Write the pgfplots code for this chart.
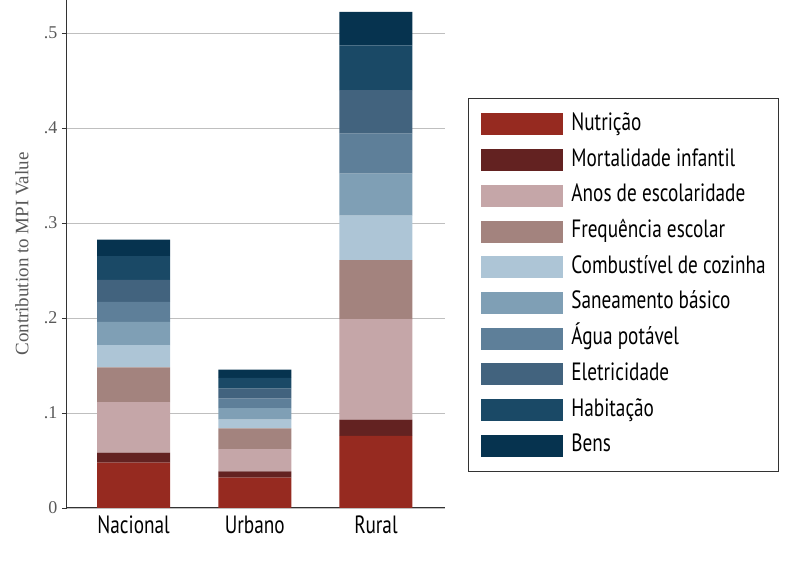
\documentclass[border=0pt]{standalone}
\usepackage{pgfplots}
\pgfplotsset{compat=1.18}
\usepackage{fontspec}
\setmainfont{Liberation Serif}
\newfontfamily\condfont[FakeStretch=0.77]{PT Sans}
\definecolor{cNut}{RGB}{150,42,32}
\definecolor{cMor}{RGB}{99,34,33}
\definecolor{cAno}{RGB}{197,166,168}
\definecolor{cFre}{RGB}{163,131,126}
\definecolor{cCom}{RGB}{173,197,214}
\definecolor{cSan}{RGB}{127,159,181}
\definecolor{cAgu}{RGB}{94,127,153}
\definecolor{cEle}{RGB}{66,99,126}
\definecolor{cHab}{RGB}{26,73,102}
\definecolor{cBen}{RGB}{6,51,79}
\begin{document}
\begin{tikzpicture}
\begin{axis}[
  at={(0,0)}, anchor=south west,
  scale only axis, width=378pt, height=508pt,
  xmin=-0.55, xmax=2.57, ymin=0, ymax=0.5347,
  ybar stacked, bar width=73pt,
  axis x line*=bottom, axis y line*=left,
  axis line style={-, draw=black!80, line width=1pt},
  xtick={0,1,2}, xticklabels={Nacional,Urbano,Rural},
  xtick style={draw=none},
  ytick={0,0.1,0.2,0.3,0.4,0.5}, yticklabels={0,.1,.2,.3,.4,.5},
  ytick style={draw=black!80, line width=0.8pt},
  tick align=outside, major tick length=5pt,
  ymajorgrids, grid style={black!25, line width=0.9pt},
  x tick label style={font=\condfont\fontsize{25}{25}\selectfont, text=black, yshift=1pt},
  y tick label style={font=\fontsize{18}{18}\selectfont, text=black!65, xshift=-1pt},
  ylabel={Contribution to MPI Value},
  every axis y label/.style={at={(axis description cs:-0.119,0.5)}, rotate=90, anchor=center, font=\fontsize{19}{19}\selectfont, text=black!65},
  legend cell align=left,
  legend image code/.code={\fill[#1] (0pt,-11pt) rectangle (82pt,11pt);},
  legend style={at={(axis description cs:1.0608,0.807)}, anchor=north west,
    draw=black!80, line width=0.8pt, inner xsep=13pt, inner ysep=15pt, row sep=13.7pt,
    font=\condfont\fontsize{25}{25}\selectfont,
    nodes={inner sep=0pt, text height=17pt, text depth=5pt, anchor=west},
    /tikz/every odd column/.style={column sep=8pt}},
]
\addplot[fill=cNut, draw=none] coordinates {(0,0.0477) (1,0.0319) (2,0.0758)};
\addplot[fill=cMor, draw=none] coordinates {(0,0.0105) (1,0.0067) (2,0.0172)};
\addplot[fill=cAno, draw=none] coordinates {(0,0.0532) (1,0.0233) (2,0.1059)};
\addplot[fill=cFre, draw=none] coordinates {(0,0.0366) (1,0.0218) (2,0.0619)};
\addplot[fill=cCom, draw=none] coordinates {(0,0.0235) (1,0.0093) (2,0.0469)};
\addplot[fill=cSan, draw=none] coordinates {(0,0.0245) (1,0.0120) (2,0.0443)};
\addplot[fill=cAgu, draw=none] coordinates {(0,0.0210) (1,0.0102) (2,0.0420)};
\addplot[fill=cEle, draw=none] coordinates {(0,0.0230) (1,0.0105) (2,0.0458)};
\addplot[fill=cHab, draw=none] coordinates {(0,0.0250) (1,0.0113) (2,0.0470)};
\addplot[fill=cBen, draw=none] coordinates {(0,0.0176) (1,0.0086) (2,0.0353)};
\legend{Nutrição, Mortalidade infantil, Anos de escolaridade, Frequência escolar, Combustível de cozinha, Saneamento básico, Água potável, Eletricidade, Habitação, Bens}
\end{axis}
\pgfresetboundingbox
\path[use as bounding box] (-67pt,-72pt) rectangle (741pt,508pt);
\end{tikzpicture}
\end{document}
